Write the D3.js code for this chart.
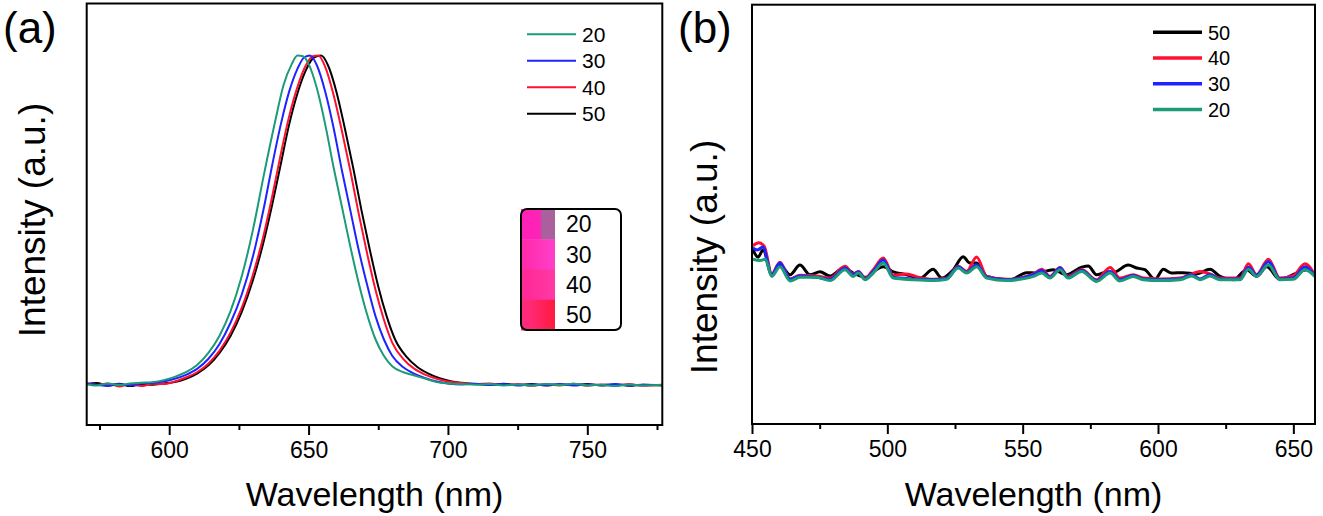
<!DOCTYPE html>
<html>
<head>
<meta charset="utf-8">
<script src="https://cdn.jsdelivr.net/npm/d3@7"></script>
<style>
  html, body { margin: 0; padding: 0; background: #fff; }
  svg { display: block; font-family: "Liberation Sans", Arial, sans-serif; }
</style>
</head>
<body>
<div id="chart"></div>
<script>
// ---- data: panel (a), normalised PL spectra [wavelength, intensity]
const specA20 = [[570,0.004],[574,0.000],[578,0.006],[582,0.001],[586,0.006],[590,0.008],[594,0.010],[598,0.016],[602,0.026],[606,0.040],[610,0.062],[614,0.098],[618,0.150],[622,0.225],[626,0.330],[630,0.470],[634,0.640],[638,0.800],[641,0.910],[644,0.975],[646,1.000],[648,0.998],[650,0.975],[653,0.900],[656,0.790],[659,0.660],[662,0.540],[665,0.420],[668,0.310],[671,0.215],[674,0.140],[677,0.090],[680,0.058],[684,0.040],[688,0.030],[692,0.020],[696,0.010],[700,0.006],[705,0.004],[710,0.002],[715,0.004],[720,0.000],[725,0.003],[730,0.000],[735,0.004],[740,0.001],[745,0.005],[750,0.000],[755,0.002],[760,-0.002],[765,0.003],[770,0.000],[777,0.002]];
const specA30 = [[570,0.006],[574,0.002],[578,-0.002],[582,0.004],[586,0.000],[590,0.006],[594,0.008],[598,0.012],[602,0.020],[606,0.032],[610,0.050],[614,0.080],[618,0.125],[622,0.190],[626,0.275],[630,0.390],[634,0.540],[637,0.670],[640,0.790],[643,0.890],[646,0.960],[648.5,0.995],[650.5,1.000],[653,0.970],[656,0.890],[659,0.780],[662,0.650],[665,0.530],[668,0.410],[671,0.305],[674,0.210],[677,0.140],[680,0.090],[684,0.055],[688,0.035],[692,0.022],[696,0.012],[700,0.006],[705,0.003],[710,0.005],[715,0.001],[720,0.004],[725,0.000],[730,0.003],[735,0.001],[740,0.004],[745,0.000],[750,0.003],[755,0.001],[760,0.004],[765,0.000],[770,0.002],[777,0.001]];
const specA40 = [[570,0.008],[574,0.001],[578,0.006],[582,-0.003],[586,0.004],[590,-0.002],[594,0.005],[598,0.004],[602,0.012],[606,0.024],[610,0.040],[614,0.066],[618,0.105],[622,0.160],[626,0.235],[630,0.335],[634,0.460],[637,0.575],[640,0.700],[643,0.815],[646,0.905],[649,0.970],[651.5,0.998],[653.5,1.000],[656,0.965],[659,0.880],[662,0.770],[665,0.650],[668,0.520],[671,0.400],[674,0.290],[677,0.200],[680,0.130],[684,0.080],[688,0.050],[692,0.032],[696,0.020],[700,0.012],[705,0.007],[710,0.004],[715,0.006],[720,0.001],[725,0.004],[730,-0.001],[735,0.004],[740,0.000],[745,0.005],[750,-0.001],[755,0.003],[760,0.000],[765,0.004],[770,-0.001],[777,0.002]];
const specA50 = [[570,0.003],[574,0.007],[578,0.000],[582,0.005],[586,-0.002],[590,0.003],[594,0.002],[598,0.006],[602,0.010],[606,0.020],[610,0.036],[614,0.060],[618,0.098],[622,0.150],[626,0.222],[630,0.318],[634,0.440],[637,0.550],[640,0.670],[643,0.790],[646,0.885],[649,0.955],[652,0.995],[654.5,1.000],[657,0.970],[660,0.890],[663,0.780],[666,0.660],[669,0.530],[672,0.410],[675,0.300],[678,0.210],[681,0.140],[685,0.088],[689,0.056],[693,0.036],[697,0.022],[701,0.013],[705,0.008],[710,0.004],[715,0.002],[720,0.005],[725,0.001],[730,0.004],[735,0.000],[740,0.003],[745,0.001],[750,0.004],[755,0.000],[760,0.003],[765,-0.001],[770,0.002],[777,0.000]];

// ---- data: panel (b), spectra [wavelength, intensity a.u.]
const specB20 = [[450.3,39.3],[453.0,39.0],[454.9,39.3],[457.3,35.2],[460.3,37.5],[464.1,34.1],[467.7,35.0],[473.9,35.0],[478.8,34.2],[484.4,36.8],[487.4,35.2],[489.3,36.0],[491.8,34.4],[494.8,36.0],[498.5,38.4],[502.2,34.8],[509.6,34.4],[516.9,34.2],[521.9,34.5],[526.2,37.2],[529.3,36.0],[533.0,37.5],[536.7,34.8],[544.1,34.2],[549.0,34.5],[554.0,35.2],[557.0,36.0],[560.1,34.8],[563.8,36.8],[566.8,34.8],[571.8,36.4],[577.3,34.0],[582.3,36.0],[585.9,34.1],[590.9,35.2],[594.5,34.4],[600.7,34.2],[608.1,34.4],[612.5,35.3],[615.5,34.4],[619.2,35.3],[622.9,34.4],[630.3,34.4],[633.4,36.9],[636.4,35.2],[640.8,37.9],[645.0,34.4],[650.0,34.5],[654.3,36.8],[657.9,35.2]];
const specB30 = [[450.3,42.0],[452.0,41.5],[454.0,42.2],[457.3,35.6],[460.3,38.4],[464.1,34.5],[467.7,35.3],[473.9,35.0],[478.8,34.5],[484.4,37.2],[487.4,35.6],[489.3,36.3],[491.8,34.6],[494.8,36.4],[498.5,39.1],[502.2,35.0],[509.6,34.6],[516.9,34.4],[521.9,34.7],[526.2,37.5],[529.3,36.2],[533.0,38.0],[536.7,35.0],[544.1,34.4],[549.0,34.7],[554.0,35.6],[557.0,36.6],[560.1,35.0],[563.8,37.2],[566.8,35.0],[571.8,36.6],[577.3,34.2],[582.3,36.4],[585.9,34.4],[590.9,35.4],[594.5,34.6],[600.7,34.4],[608.1,34.6],[612.5,35.6],[615.5,34.6],[619.2,35.6],[622.9,34.6],[630.3,34.6],[633.4,37.4],[636.4,35.5],[640.8,38.7],[645.0,34.6],[650.0,34.8],[654.3,37.5],[657.9,35.4]];
const specB40 = [[450.3,42.5],[452.5,43.2],[454.5,42.4],[457.3,35.8],[460.3,38.6],[464.1,34.6],[467.7,35.5],[473.9,35.3],[478.8,34.8],[484.4,37.6],[487.4,35.8],[489.3,36.4],[491.8,34.8],[494.8,36.8],[498.5,39.6],[502.2,35.5],[507.1,35.8],[511.4,35.0],[516.9,34.5],[521.9,34.8],[526.2,37.6],[529.3,36.4],[533.0,39.8],[536.7,35.2],[544.1,34.5],[549.0,34.8],[554.0,35.8],[557.0,36.9],[560.1,35.2],[563.8,37.3],[566.8,35.2],[571.8,36.8],[577.3,34.4],[582.3,37.3],[585.9,34.8],[590.9,35.6],[594.5,34.8],[600.7,34.6],[608.1,34.8],[612.5,35.8],[615.5,36.4],[619.2,35.8],[622.9,34.8],[630.3,34.8],[633.4,38.2],[636.4,35.6],[640.8,39.3],[645.0,34.8],[650.0,35.4],[654.3,38.2],[657.9,35.6]];
const specB50 = [[450.4,41.5],[452.2,39.8],[454.1,41.5],[457.3,35.6],[460.3,37.9],[464.1,35.6],[467.7,37.9],[471.4,35.6],[475.1,36.3],[478.8,35.3],[483.8,37.2],[487.4,36.0],[492.4,35.0],[494.8,36.3],[498.5,37.5],[502.2,36.3],[507.1,35.6],[512.1,34.8],[516.9,36.9],[520.1,34.8],[524.4,36.8],[528.0,39.9],[530.5,38.4],[533.0,38.4],[536.7,35.2],[544.1,34.4],[545.3,34.4],[551.5,36.1],[555.1,36.0],[561.3,36.8],[566.2,35.6],[571.8,37.4],[574.2,37.7],[577.3,35.6],[581.1,36.3],[583.4,36.1],[589.0,37.9],[592.1,37.2],[595.1,36.8],[598.9,34.5],[602.0,36.9],[605.0,36.0],[609.3,36.1],[614.2,35.8],[619.2,36.9],[622.9,35.2],[627.8,34.4],[632.8,36.8],[636.4,35.2],[640.2,37.5],[645.0,34.5],[651.2,36.0],[654.9,36.8],[658.0,35.3]];

// ---- labels / ticks
const seriesNames = ["20", "30", "40", "50"];
const seriesColors = { "20": "#1b9b78", "30": "#1e24ff", "40": "#ff1030", "50": "#000000" };
const ticksA = [600, 650, 700, 750];
const minorTicksA = [575, 625, 675, 725, 775];
const ticksB = [450, 500, 550, 600, 650];
const minorTicksB = [475, 525, 575, 625];
const insetLabels = ["20", "30", "40", "50"];
const insetSwatches = [["#ff22b6", "#a9609c"], ["#ff2cae", "#ff40cc"], ["#ff2a98", "#ff3aa6"], ["#ff2a7a", "#ff1a3e"]];

const FONT = '"Liberation Sans", Arial, sans-serif';

const svg = d3.select("#chart").append("svg")
  .attr("width", 1323)
  .attr("height", 516);

const defs = svg.append("defs");

function drawPanel({ id, box, xDomain, yDomain, major, minor, series, order, lineWidth, tag, yLabelCenter, yLabelX }) {
  const x = d3.scaleLinear().domain(xDomain).range([box.left, box.right]);
  const y = d3.scaleLinear().domain(yDomain).range([box.bottom, box.top]);

  // clip so curves stay in the frame
  defs.append("clipPath").attr("id", `clip-${id}`)
    .append("rect")
    .attr("x", box.left).attr("y", box.top)
    .attr("width", box.right - box.left).attr("height", box.bottom - box.top);

  const line = d3.line()
    .x((d) => x(d[0]))
    .y((d) => y(d[1]))
    .curve(d3.curveMonotoneX);

  const g = svg.append("g").attr("clip-path", `url(#clip-${id})`);
  order.forEach((key) => {
    g.append("path")
      .datum(series[key])
      .attr("fill", "none")
      .attr("stroke", seriesColors[key])
      .attr("stroke-width", lineWidth)
      .attr("stroke-linejoin", "round")
      .attr("d", line);
  });

  // bottom axis, major ticks with labels
  const axis = svg.append("g")
    .attr("transform", `translate(0, ${box.bottom})`)
    .call(d3.axisBottom(x).tickValues(major).tickSize(10).tickPadding(7).tickFormat(d3.format("d")));
  axis.select(".domain").remove();
  axis.selectAll("line").attr("stroke", "#000").attr("stroke-width", 2);
  axis.selectAll("text").attr("font-family", FONT).attr("font-size", 23).attr("fill", "#000");

  // minor ticks
  svg.append("g")
    .attr("transform", `translate(0, ${box.bottom})`)
    .call(d3.axisBottom(x).tickValues(minor).tickSize(5).tickFormat(""))
    .call((a) => a.select(".domain").remove())
    .selectAll("line").attr("stroke", "#000").attr("stroke-width", 2);

  // frame
  svg.append("rect")
    .attr("x", box.left).attr("y", box.top)
    .attr("width", box.right - box.left).attr("height", box.bottom - box.top)
    .attr("fill", "none").attr("stroke", "#000").attr("stroke-width", 2);

  // axis titles
  svg.append("text")
    .attr("x", (box.left + box.right) / 2)
    .attr("y", 506)
    .attr("text-anchor", "middle")
    .attr("font-family", FONT).attr("font-size", 34)
    .text("Wavelength (nm)");

  svg.append("text")
    .attr("transform", `translate(${yLabelX}, ${yLabelCenter}) rotate(-90)`)
    .attr("text-anchor", "middle")
    .attr("font-family", FONT).attr("font-size", 37)
    .text("Intensity (a.u.)");

  // panel tag
  svg.append("text")
    .attr("x", tag.x).attr("y", 43)
    .attr("font-family", FONT).attr("font-size", 44)
    .text(tag.text);
}

function drawLegend(items, { x0, x1, y0, step, width, fontSize }) {
  const lg = svg.append("g");
  items.forEach((key, i) => {
    const yy = y0 + i * step;
    lg.append("line")
      .attr("x1", x0).attr("x2", x1).attr("y1", yy).attr("y2", yy)
      .attr("stroke", seriesColors[key]).attr("stroke-width", width);
    lg.append("text")
      .attr("x", x1 + 6).attr("y", yy)
      .attr("dy", "0.36em")
      .attr("font-family", FONT).attr("font-size", fontSize)
      .text(key);
  });
}

// inset with the colour swatches of the samples
function drawInset() {
  const box = { x: 521, y: 209, w: 100, h: 121 };
  const rowH = box.h / insetLabels.length;
  const ig = svg.append("g");

  insetSwatches.forEach((c, i) => {
    const grad = defs.append("linearGradient").attr("id", `sw${i}`);
    const edge = i === 0 ? ["55%", "62%"] : ["20%", "100%"];
    grad.append("stop").attr("offset", "0%").attr("stop-color", c[0]);
    grad.append("stop").attr("offset", edge[0]).attr("stop-color", c[0]);
    grad.append("stop").attr("offset", edge[1]).attr("stop-color", c[1]);
    grad.append("stop").attr("offset", "100%").attr("stop-color", c[1]);
    ig.append("rect")
      .attr("x", box.x).attr("y", box.y + i * rowH)
      .attr("width", 34).attr("height", rowH + 0.5)
      .attr("fill", `url(#sw${i})`);
    ig.append("text")
      .attr("x", box.x + 45).attr("y", box.y + i * rowH + rowH / 2)
      .attr("dy", "0.36em")
      .attr("font-family", FONT).attr("font-size", 23)
      .text(insetLabels[i]);
  });

  ig.append("rect")
    .attr("x", box.x).attr("y", box.y)
    .attr("width", box.w).attr("height", box.h)
    .attr("rx", 6).attr("ry", 6)
    .attr("fill", "none").attr("stroke", "#000").attr("stroke-width", 2);
}

drawPanel({
  id: "a",
  box: { left: 86.7, right: 662.3, top: 3.5, bottom: 425 },
  xDomain: [570.4, 776.9],
  yDomain: [-0.12, 1.158],
  major: ticksA,
  minor: minorTicksA,
  series: { "20": specA20, "30": specA30, "40": specA40, "50": specA50 },
  order: ["50", "40", "30", "20"],
  lineWidth: 2,
  tag: { x: 3, text: "(a)" },
  yLabelCenter: 220,
  yLabelX: 45
});

drawPanel({
  id: "b",
  box: { left: 752, right: 1315, top: 4.7, bottom: 424 },
  xDomain: [450, 658],
  yDomain: [0, 100],
  major: ticksB,
  minor: minorTicksB,
  series: { "20": specB20, "30": specB30, "40": specB40, "50": specB50 },
  order: ["50", "40", "30", "20"],
  lineWidth: 3,
  tag: { x: 678, text: "(b)" },
  yLabelCenter: 257,
  yLabelX: 717
});

drawLegend(seriesNames, { x0: 527, x1: 576, y0: 34.3, step: 26.5, width: 2, fontSize: 21 });
drawLegend(seriesNames.slice().reverse(), { x0: 1153, x1: 1202, y0: 32.3, step: 25.7, width: 3.5, fontSize: 20 });
drawInset();
</script>
</body>
</html>
